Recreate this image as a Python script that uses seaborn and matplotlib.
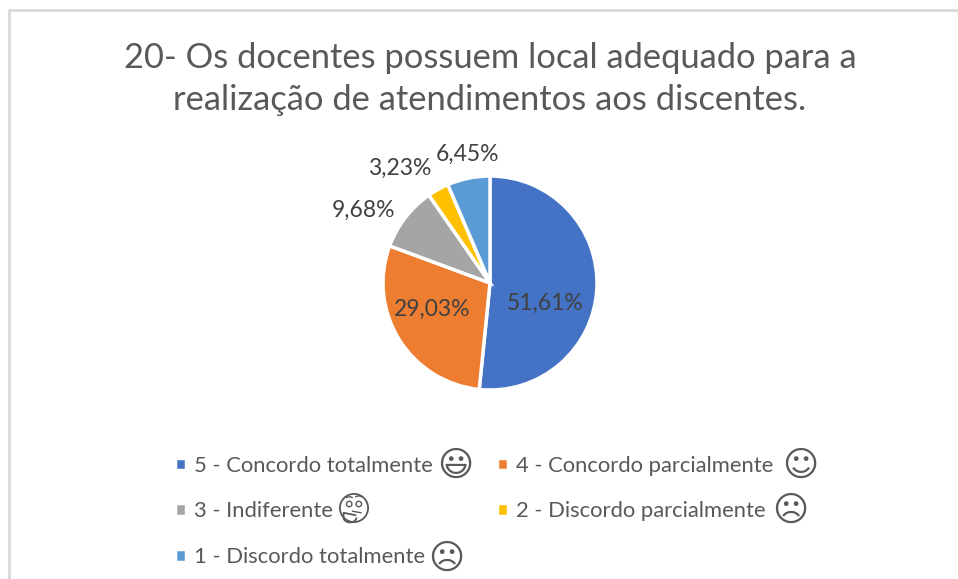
import matplotlib
matplotlib.use('Agg')
import matplotlib.pyplot as plt
from matplotlib.patches import Arc, Circle
import seaborn as sns

title = '20- Os docentes possuem local adequado para a\nrealização de atendimentos aos discentes.'
categories = ['5 - Concordo totalmente', '4 - Concordo parcialmente', '3 - Indiferente',
              '2 - Discordo parcialmente', '1 - Discordo totalmente']
faces = ['\U0001F603', '\u263A', '', '\u2639', '\u2639']
values = [51.61, 29.03, 9.68, 3.23, 6.45]
colors = ['#4472C4', '#ED7D31', '#A5A5A5', '#FFC000', '#5B9BD5']
label_pos = [(0.52, -0.19), (-0.54, -0.25), (-1.18, 0.68), (-0.84, 1.07), (-0.21, 1.205)]
face_pos = [(455, 466), (800, 466), (354, 508), (790, 511), (446, 559)]

W, H = 958, 579
GREY = '#595959'

sns.set_theme(style='white')
plt.rcParams['font.family'] = ['Lato', 'DejaVu Sans']

fig = plt.figure(figsize=(W / 100, H / 100), dpi=100)
fig.add_artist(plt.Line2D([9 / W, 9 / W, 1], [0, 1 - 10 / H, 1 - 10 / H], color='#d9d9d9', lw=2))

fig.text(490 / W, 1 - 79 / H, title, ha='center', va='center', color=GREY, fontsize=24.8,
         linespacing=1.42)

# pie axes, 107 px radius around (490, 283)
R = 107
ax = fig.add_axes([(490 - R) / W, 1 - (283 + R) / H, 2 * R / W, 2 * R / H])
wedges, _ = ax.pie(values, colors=colors, startangle=90, counterclock=False, radius=1,
                   wedgeprops={'edgecolor': 'white', 'linewidth': 2.5})
ax.set_xlim(-1, 1)
ax.set_ylim(-1, 1)
for v, (x, y) in zip(values, label_pos):
    ax.text(x, y, f'{v:.2f}%'.replace('.', ','), ha='center', va='center', color='#404040',
            fontsize=16.5, clip_on=False)

# matplotlib fills legend columns first
order = [0, 2, 4, 1, 3]
fig.legend([wedges[i] for i in order], [categories[i] for i in order], ncol=2, loc='upper left',
           bbox_to_anchor=(155 / W, 1 - 436 / H), frameon=False, fontsize=15.8,
           labelcolor=GREY, handlelength=0.5, handleheight=0.5, handletextpad=0.38,
           columnspacing=2.9, labelspacing=1.17)

for face, (x, y) in zip(faces, face_pos):
    if face:
        fig.text(x / W, 1 - y / H, face, ha='center', va='center', color=GREY, fontsize=25,
                 family='DejaVu Sans')

# no installed font has the thinking face, so it is drawn by hand
x, y = face_pos[2]
ic = fig.add_axes([(x - 16) / W, 1 - (y + 16) / H, 32 / W, 32 / H])
ic.set_xlim(-1, 1)
ic.set_ylim(-1, 1)
ic.axis('off')
ic.add_patch(Circle((0, 0), 0.88, fill=False, ec=GREY, lw=1.3))
ic.add_patch(Circle((-0.3, 0.25), 0.17, fill=False, ec=GREY, lw=1))
ic.add_patch(Circle((0.3, 0.25), 0.17, fill=False, ec=GREY, lw=1))
ic.add_patch(Arc((-0.3, 0.55), 0.5, 0.3, theta1=20, theta2=160, ec=GREY, lw=1))
ic.add_patch(Arc((0.3, 0.6), 0.5, 0.3, theta1=20, theta2=160, ec=GREY, lw=1))
ic.plot([-0.1, 0.45], [-0.2, -0.3], color=GREY, lw=1)
ic.add_patch(Arc((-0.25, -0.6), 0.8, 0.6, theta1=180, theta2=360, ec=GREY, lw=1.3))
ic.plot([-0.65, -0.65, 0.1], [-0.6, -0.3, -0.45], color=GREY, lw=1.3)

fig.savefig('out.png', dpi=100, facecolor='white')
